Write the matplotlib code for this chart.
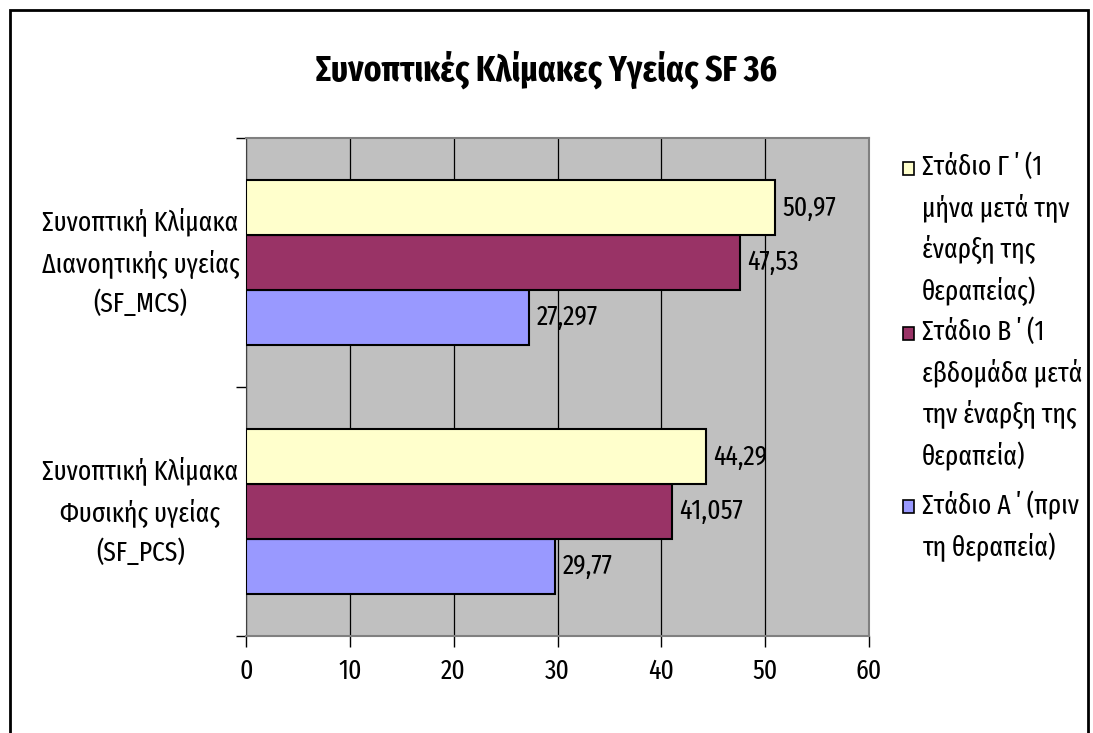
import numpy as np
import matplotlib
matplotlib.use('Agg')
import matplotlib.pyplot as plt
from matplotlib.patches import Rectangle

plt.rcParams['font.family'] = ['Fira Sans Extra Condensed', 'DejaVu Sans']

title = 'Συνοπτικές Κλίμακες Υγείας SF 36'
categories = ['Συνοπτική Κλίμακα\nΦυσικής υγείας\n(SF_PCS)',
              'Συνοπτική Κλίμακα\nΔιανοητικής υγείας\n(SF_MCS)']
series_names = ['Στάδιο Α ΄ (πριν\nτη θεραπεία)',
                'Στάδιο Β ΄ (1\nεβδομάδα μετά\nτην έναρξη της\nθεραπεία)',
                'Στάδιο Γ ΄ (1\nμήνα μετά την\nέναρξη της\nθεραπείας)']
stage_a = [29.77, 27.297]
stage_b = [41.057, 47.53]
stage_c = [44.29, 50.97]
labels_a = ['29,77', '27,297']
labels_b = ['41,057', '47,53']
labels_c = ['44,29', '50,97']
colors = ['#9999FF', '#993366', '#FFFFCC']

fs = 20

fig = plt.figure(figsize=(10.93, 7.33), dpi=100)
ax = fig.add_axes([246/1093, 1-636/733, (869-246)/1093, (636-138)/733])
ax.set_facecolor('#C0C0C0')

y = np.arange(len(categories))
h = 0.22
for i, (vals, labs) in enumerate(zip([stage_a, stage_b, stage_c],
                                     [labels_a, labels_b, labels_c])):
    pos = y + (i - 1) * h
    ax.barh(pos, vals, height=h, color=colors[i], edgecolor='black',
            linewidth=1.5, zorder=3)
    for p, v, s in zip(pos, vals, labs):
        ax.text(v + 0.7, p, s, va='center', ha='left', fontsize=fs, zorder=4)

ax.set_xlim(0, 60)
ax.set_ylim(-0.5, 1.5)
ax.set_xticks(np.arange(0, 61, 10))
ax.tick_params(axis='x', labelsize=fs, length=8, width=1, direction='out', pad=8)
ax.grid(axis='x', color='black', linewidth=0.9, zorder=1)
ax.set_yticks([-0.5, 0.5, 1.5])
ax.set_yticklabels([])
ax.tick_params(axis='y', which='major', length=7, width=1)
ax.set_yticks(y, minor=True)
ax.tick_params(axis='y', which='minor', length=0, pad=76)
ax.set_yticklabels(categories, minor=True, fontsize=fs, ha='center',
                   va='center', linespacing=1.55)
for s in ['top', 'right', 'bottom']:
    ax.spines[s].set_color('#808080')
    ax.spines[s].set_linewidth(1.5)
ax.spines['left'].set_color('#404040')

fig.text(0.5, 1-70/733, title, ha='center', va='center', fontsize=26,
         fontweight='bold')

# legend (handles aligned to the first line of each entry)
lx, lw = 903/1093, 11/1093
tops = [153, 318, 491]
for idx, t in zip([2, 1, 0], tops):
    fig.patches.append(Rectangle((lx, 1-(t+22)/733), lw, 13/733,
                                 transform=fig.transFigure,
                                 facecolor=colors[idx], edgecolor='black',
                                 linewidth=1.2))
    fig.text(922/1093, 1-t/733, series_names[idx], ha='left', va='top',
             fontsize=fs, linespacing=1.55)

fig.patches.append(Rectangle((10/1093, -0.05), 1078/1093, 1.05-10/733,
                             transform=fig.transFigure, fill=False,
                             edgecolor='black', linewidth=2))

fig.savefig('out.png', dpi=100)
